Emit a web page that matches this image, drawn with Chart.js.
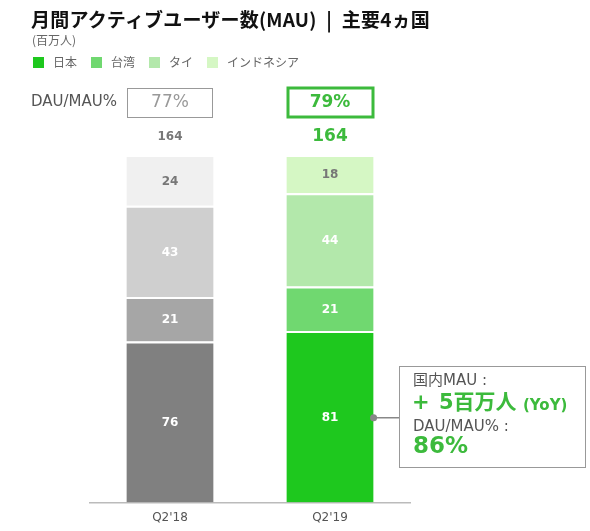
<!DOCTYPE html>
<html>
<head>
<meta charset="utf-8">
<script src="https://cdn.jsdelivr.net/npm/chart.js@4"></script>
<style>
  body { margin: 0; background: #fff; font-family: "DejaVu Sans", "Noto Sans CJK JP", sans-serif; }
  #wrap { position: relative; width: 590px; height: 531px; overflow: hidden; }
  #title { position: absolute; left: 31px; top: 5px; font-size: 19px; font-weight: bold; color: #111; letter-spacing: 0.2px; font-family: "Noto Sans CJK JP", sans-serif; white-space: nowrap; }
  #unit { position: absolute; left: 32px; top: 31px; font-size: 12px; color: #666; font-family: "Noto Sans CJK JP", sans-serif; }
  #legend { position: absolute; left: 33px; top: 53px; font-size: 12px; color: #666; display: flex; font-family: "Noto Sans CJK JP", sans-serif; }
  #legend span.sw { display: inline-block; width: 11px; height: 11px; margin-right: 9px; vertical-align: -1px; }
  #legend div { margin-right: 14px; }
  canvas { position: absolute; left: 0; top: 0; }
</style>
</head>
<body>
<div id="wrap">
  <canvas id="mauChart" width="590" height="539"></canvas>
  <div id="title">月間アクティブユーザー数(MAU)&ensp;|&ensp;主要4ヵ国</div>
  <div id="unit">(百万人)</div>
  <div id="legend"></div>
</div>
<script>
// data
const quarters = ["Q2'18", "Q2'19"];
const japan = [76, 81];
const taiwan = [21, 21];
const thai = [43, 44];
const indonesia = [24, 18];
const dauMau = ["77%", "79%"];
const countryNames = ["日本", "台湾", "タイ", "インドネシア"];

// colours: first bar is greyed out, second one green
const greys = ["#808080", "#a6a6a6", "#cfcfcf", "#f0f0f0"];
const greens = ["#1ec81e", "#70d870", "#b3e8ab", "#d5f7c4"];
const textGreen = "#3cba3c";

const seriesList = [japan, taiwan, thai, indonesia];
const totals = quarters.map((q, i) => seriesList.reduce((s, arr) => s + arr[i], 0));

//legend
let legendHtml = "";
countryNames.forEach((name, i) => {
    legendHtml += '<div><span class="sw" style="background:' + greens[i] + '"></span>' + name + '</div>';
});
document.getElementById("legend").innerHTML = legendHtml;

let mauData = {
    labels: quarters,
    datasets: seriesList.map((arr, i) => ({
        label: countryNames[i],
        data: arr,
        backgroundColor: [greys[i], greens[i]],
        borderColor: "#fff",
        borderWidth: { top: 2, left: 0, right: 0, bottom: 0 },
        borderSkipped: false,
        barPercentage: 0.545,
        categoryPercentage: 1,
    })),
};

// labels, totals, DAU/MAU boxes and the callout
const extrasPlugin = {
    id: "extras",
    afterDatasetsDraw(chart) {
        const ctx = chart.ctx;
        const font = "\"DejaVu Sans\", \"Noto Sans CJK JP\", sans-serif";
        ctx.save();
        ctx.textAlign = "center";
        ctx.textBaseline = "middle";

        // segment values
        chart.data.datasets.forEach((ds, di) => {
            chart.getDatasetMeta(di).data.forEach((bar, i) => {
                ctx.font = "bold 12px " + font;
                ctx.fillStyle = di === 3 ? "#777" : "#fff";
                ctx.fillText(ds.data[i], bar.x, (bar.y + bar.base) / 2 + 1);
            });
        });

        // totals above bars
        const topBars = chart.getDatasetMeta(3).data;
        topBars.forEach((bar, i) => {
            if (i === 0) {
                ctx.font = "bold 12px " + font;
                ctx.fillStyle = "#777";
            } else {
                ctx.font = "bold 17px " + font;
                ctx.fillStyle = textGreen;
            }
            ctx.fillText(totals[i], bar.x, 137);
        });

        // DAU/MAU row
        ctx.textAlign = "left";
        ctx.font = "15px " + font;
        ctx.fillStyle = "#555";
        ctx.fillText("DAU/MAU%", 31, 102);
        ctx.textAlign = "center";
        topBars.forEach((bar, i) => {
            if (i === 0) {
                ctx.strokeStyle = "#999";
                ctx.lineWidth = 1;
                ctx.strokeRect(bar.x - 42.5, 88.5, 85, 29);
                ctx.font = "17px " + font;
                ctx.fillStyle = "#999";
            } else {
                ctx.strokeStyle = textGreen;
                ctx.lineWidth = 3;
                ctx.strokeRect(bar.x - 42, 88, 85, 29);
                ctx.font = "bold 17px " + font;
                ctx.fillStyle = textGreen;
            }
            ctx.fillText(dauMau[i], bar.x, 103);
        });

        // callout from the japan segment of Q2'19
        const jp = chart.getDatasetMeta(0).data[1];
        const jpRight = jp.x + jp.width / 2;
        const midY = (jp.y + jp.base) / 2 + 1;
        ctx.strokeStyle = "#888";
        ctx.lineWidth = 1.5;
        ctx.beginPath();
        ctx.moveTo(jpRight, midY);
        ctx.lineTo(400, midY);
        ctx.stroke();
        ctx.fillStyle = "#888";
        ctx.beginPath();
        ctx.arc(jpRight, midY, 3.5, 0, Math.PI * 2);
        ctx.fill();
        ctx.lineWidth = 1;
        ctx.strokeStyle = "#999";
        ctx.strokeRect(399.5, 366.5, 186, 101);

        ctx.textAlign = "left";
        ctx.fillStyle = "#555";
        ctx.font = "15px " + font;
        ctx.fillText("国内MAU :", 413, 381);
        ctx.fillStyle = textGreen;
        ctx.font = "bold 21px " + font;
        ctx.fillText("+", 412, 404);
        ctx.fillText("5百万人", 439, 404);
        ctx.font = "bold 15px " + font;
        ctx.fillText("(YoY)", 523, 406);
        ctx.fillStyle = "#555";
        ctx.font = "15px " + font;
        ctx.fillText("DAU/MAU% :", 413, 427);
        ctx.fillStyle = textGreen;
        ctx.font = "bold 23px " + font;
        ctx.fillText("86%", 413, 447);
        ctx.restore();
    },
};

let mauOptions = {
    responsive: false,
    animation: false,
    maintainAspectRatio: false,
    layout: {
        padding: { left: 90, right: 180, top: 155, bottom: 6 },
    },
    plugins: {
        legend: { display: false },
        tooltip: { enabled: false },
    },
    scales: {
        x: {
            stacked: true,
            grid: { display: false, drawTicks: false, tickLength: 0 },
            border: { display: true, color: "#bbb", width: 1.5 },
            ticks: {
                color: "#555",
                padding: 8,
                font: { size: 12, family: "\"DejaVu Sans\", Verdana, sans-serif" },
            },
        },
        y: {
            stacked: true,
            display: false,
            min: 0,
            max: 164,
        },
    },
};

new Chart(document.getElementById("mauChart").getContext("2d"), {
    type: "bar",
    data: mauData,
    options: mauOptions,
    plugins: [extrasPlugin],
});
</script>
</body>
</html>
